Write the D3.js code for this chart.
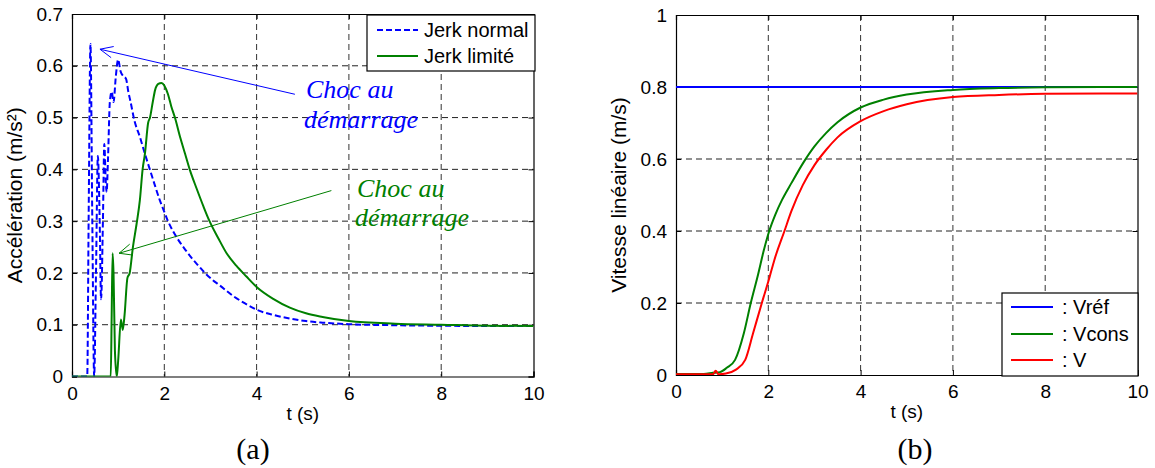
<!DOCTYPE html>
<html><head><meta charset="utf-8">
<script src="https://cdn.jsdelivr.net/npm/d3@7"></script>
<style>
html,body{margin:0;padding:0;background:#fff;}
svg{display:block;}
</style></head>
<body>
<svg id="c" width="1155" height="468"></svg>
<script>
// ---------- DATA ----------
// (a) acceleration
const jerkNormalT = [0,0.33,0.36,0.40,0.44,0.48,0.52,0.56,0.60,0.63,0.67,0.70,0.73,0.75,0.78,0.82,0.86,0.90,0.95,1.00,1.05,1.11,1.17,1.22,1.27,1.35,1.47,1.58,1.69,1.80,1.90,2.0,2.08,2.2,2.34,2.47,2.6,2.74,2.88,3.04,3.2,3.5,3.75,4.0,4.36,4.72,5.07,5.43,6.0,7.0,8.0,9.0,10.0];
const jerkNormalA = [0,0,0.30,0.642,0.30,0.0,0.20,0.426,0.30,0.149,0.30,0.449,0.38,0.356,0.42,0.53,0.55,0.53,0.58,0.612,0.59,0.58,0.575,0.55,0.53,0.495,0.463,0.43,0.399,0.368,0.341,0.318,0.30,0.279,0.259,0.243,0.228,0.214,0.20,0.187,0.176,0.155,0.141,0.129,0.119,0.112,0.107,0.104,0.101,0.099,0.098,0.0975,0.0975];
const jerkLimiteT = [0,0.84,0.86,0.88,0.90,0.93,0.97,1.00,1.06,1.10,1.14,1.20,1.25,1.32,1.40,1.47,1.53,1.58,1.65,1.69,1.75,1.80,1.87,1.94,2.00,2.08,2.15,2.23,2.35,2.45,2.55,2.70,2.85,2.98,3.17,3.35,3.56,3.78,4.0,4.36,4.72,5.07,5.43,6.0,7.0,8.0,9.0,10.0];
const jerkLimiteA = [0,0,0.12,0.238,0.20,0.05,0.0,0.03,0.11,0.09,0.12,0.19,0.20,0.25,0.295,0.34,0.40,0.43,0.49,0.50,0.53,0.553,0.565,0.567,0.562,0.545,0.522,0.50,0.46,0.43,0.40,0.363,0.328,0.30,0.267,0.238,0.214,0.193,0.173,0.15,0.133,0.122,0.115,0.107,0.102,0.100,0.098,0.0975];
// (b) vitesse
const vrefT = [0,10];
const vrefV = [0.8,0.8];
const vconsT = [0,0.6,0.8,0.95,1.1,1.28,1.47,1.62,1.78,1.90,2.02,2.15,2.3,2.5,2.76,3.0,3.25,3.5,4.0,4.5,5.0,6.0,7.0,8.0,10.0];
const vconsV = [0.003,0.003,0.006,0.008,0.02,0.042,0.116,0.2,0.28,0.345,0.40,0.445,0.487,0.533,0.59,0.635,0.672,0.702,0.743,0.765,0.779,0.792,0.797,0.799,0.80];
const vT = [0,0.8,0.86,0.92,1.08,1.3,1.5,1.67,1.86,2.03,2.13,2.35,2.5,2.75,3.0,3.25,3.5,4.0,4.5,5.0,6.0,7.0,8.0,10.0];
const vV = [0.002,0.002,0.012,0.002,0.004,0.015,0.042,0.116,0.2,0.273,0.319,0.40,0.455,0.528,0.583,0.625,0.66,0.705,0.733,0.752,0.772,0.778,0.781,0.782];
// ticks
const xTicks = [0,2,4,6,8,10];
const yTicksA = [0,0.1,0.2,0.3,0.4,0.5,0.6,0.7];
const yTicksB = [0,0.2,0.4,0.6,0.8,1];

const svg = d3.select("#c");
const FONT = "'Liberation Sans', Arial, sans-serif";
const SERIF = "'Liberation Serif', 'Times New Roman', serif";

function panel(o){
  const g = svg.append("g");
  const x = d3.scaleLinear().domain([0,10]).range([o.x0,o.x1]);
  const y = d3.scaleLinear().domain(o.yDomain).range([o.yB,o.yT]);
  // grid
  const gx = xTicks.filter(d=>d>0&&d<10);
  const gy = o.yTicks.filter(d=>d>o.yDomain[0]&&d<o.yDomain[1]);
  g.selectAll(".gx").data(gx).enter().append("line")
    .attr("x1",d=>x(d)).attr("x2",d=>x(d)).attr("y1",o.yT).attr("y2",o.yB)
    .attr("stroke","#333").attr("stroke-width",1).attr("stroke-dasharray","6,4");
  g.selectAll(".gy").data(gy).enter().append("line")
    .attr("y1",d=>y(d)).attr("y2",d=>y(d)).attr("x1",o.x0).attr("x2",o.x1)
    .attr("stroke","#222").attr("stroke-width",1).attr("stroke-dasharray","6,4");
  // axes
  const fmt = d=>d3.format("")(d);
  const ab = g.append("g").attr("transform",`translate(0,${o.yB})`)
    .call(d3.axisBottom(x).tickValues(xTicks).tickSize(-5).tickPadding(10).tickFormat(fmt));
  const at = g.append("g").attr("transform",`translate(0,${o.yT})`)
    .call(d3.axisTop(x).tickValues(xTicks).tickSize(-5).tickFormat(""));
  const al = g.append("g").attr("transform",`translate(${o.x0},0)`)
    .call(d3.axisLeft(y).tickValues(o.yTicks).tickSize(-5).tickPadding(9).tickFormat(fmt));
  const ar = g.append("g").attr("transform",`translate(${o.x1},0)`)
    .call(d3.axisRight(y).tickValues(o.yTicks).tickSize(-5).tickFormat(""));
  [ab,at,al,ar].forEach(a=>{
    a.select(".domain").attr("stroke","#000").attr("stroke-width",1.2);
    a.selectAll(".tick line").attr("stroke","#000");
    a.selectAll("text").attr("font-family",FONT).attr("font-size",19).attr("fill","#000");
  });
  // clip
  const cid = "clip"+o.id;
  svg.append("clipPath").attr("id",cid).append("rect")
    .attr("x",o.x0).attr("y",o.yT-2).attr("width",o.x1-o.x0).attr("height",o.yB-o.yT+2);
  const lines = g.append("g").attr("clip-path",`url(#${cid})`);
  o.series.forEach(s=>{
    const pts = s.t.map((t,i)=>[t,s.v[i]]);
    lines.append("path").datum(pts)
      .attr("d",d3.line().curve(d3.curveMonotoneX).x(d=>x(d[0])).y(d=>y(d[1])))
      .attr("fill","none").attr("stroke",s.color).attr("stroke-width",2)
      .attr("stroke-linejoin","round")
      .attr("stroke-dasharray",s.dash||null);
  });
  // labels
  g.append("text").attr("x",(o.x0+o.x1)/2).attr("y",o.yB+43)
    .attr("text-anchor","middle").attr("font-family",FONT).attr("font-size",19).text("t (s)");
  const ycx = o.x0-50, ycy=(o.yT+o.yB)/2;
  g.append("text").attr("transform",`translate(${ycx},${ycy}) rotate(-90)`)
    .attr("text-anchor","middle").attr("font-family",FONT).attr("font-size",21).text(o.ylabel);
  g.append("text").attr("x",o.capX).attr("y",459)
    .attr("text-anchor","middle").attr("font-family",SERIF).attr("font-size",30).text(o.caption);
  return {x,y,g};
}

const A = panel({id:"a",x0:72,x1:533.5,yT:14,yB:376.5,yDomain:[0,0.7],yTicks:yTicksA,
  ylabel:"Accélération (m/s²)",caption:"(a)",capX:253,
  series:[{t:jerkNormalT,v:jerkNormalA,color:"#0000ff",dash:"6,3"},
          {t:jerkLimiteT,v:jerkLimiteA,color:"#008000"}]});
const B = panel({id:"b",x0:676,x1:1137.5,yT:15,yB:375,yDomain:[0,1],yTicks:yTicksB,
  ylabel:"Vitesse linéaire (m/s)",caption:"(b)",capX:915,
  series:[{t:vrefT,v:vrefV,color:"#0000ff"},
          {t:vconsT,v:vconsV,color:"#008000"},
          {t:vT,v:vV,color:"#ff0000"}]});

// legends
function legend(bx,by,bw,bh,items,lx0,lx1,tx){
  const g = svg.append("g");
  g.append("rect").attr("x",bx).attr("y",by).attr("width",bw).attr("height",bh)
    .attr("fill","#fff").attr("stroke","#000").attr("stroke-width",1.2);
  items.forEach(it=>{
    g.append("line").attr("x1",lx0).attr("x2",lx1).attr("y1",it.y).attr("y2",it.y)
      .attr("stroke",it.color).attr("stroke-width",2).attr("stroke-dasharray",it.dash||null);
    g.append("text").attr("x",tx).attr("y",it.y).attr("dy","0.36em")
      .attr("font-family",FONT).attr("font-size",20).text(it.label);
  });
}
legend(367,15,168,56,[{y:30,color:"#0000ff",dash:"6,3",label:"Jerk normal"},
                      {y:56,color:"#008000",label:"Jerk limité"}],377,418,424);
legend(1002,293,136,83,[{y:307,color:"#0000ff",label:": Vréf"},
                        {y:334,color:"#008000",label:": Vcons"},
                        {y:360,color:"#ff0000",label:": V"}],1011,1053,1062);

// annotations (a)
const annotT = [[0.606,0.632,4.83,0.545],[1.02,0.238,5.62,0.359]];
const annotColors = ["#0000ff","#008000"];
annotT.forEach((a,i)=>{
  const x1=A.x(a[0]),y1=A.y(a[1]),x2=A.x(a[2]),y2=A.y(a[3]);
  const ang=Math.atan2(y2-y1,x2-x1), L=14, sp=0.42;
  const g=svg.append("g").attr("stroke",annotColors[i]).attr("stroke-width",1).attr("fill","none");
  g.append("line").attr("x1",x1).attr("y1",y1).attr("x2",x2).attr("y2",y2);
  g.append("path").attr("d",`M${x1+L*Math.cos(ang+sp)},${y1+L*Math.sin(ang+sp)}L${x1},${y1}L${x1+L*Math.cos(ang-sp)},${y1+L*Math.sin(ang-sp)}`);
});
const notes = [{x:306,y:98,t:"Choc au",c:"#0000ff"},{x:304,y:128,t:"démarrage",c:"#0000ff"},
               {x:357,y:197,t:"Choc au",c:"#008000"},{x:355,y:226,t:"démarrage",c:"#008000"}];
svg.selectAll(".note").data(notes).enter().append("text")
  .attr("x",d=>d.x).attr("y",d=>d.y).attr("fill",d=>d.c)
  .attr("font-family",SERIF).attr("font-style","italic").attr("font-size",26).text(d=>d.t);
</script>
</body></html>
